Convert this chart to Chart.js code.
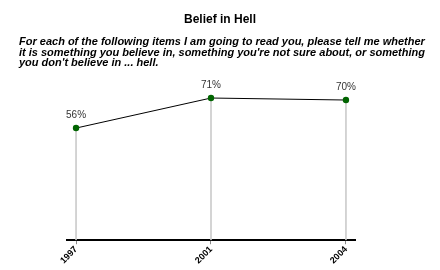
<!DOCTYPE html>
<html>
<head>
<meta charset="utf-8">
<script src="https://cdn.jsdelivr.net/npm/chart.js@4"></script>
<style>
  html, body { margin: 0; padding: 0; background: #fff; }
  #wrap { width: 440px; height: 270px; }
</style>
</head>
<body>
<div id="wrap"><canvas id="hellChart" width="440" height="270"></canvas></div>
<script>
// Chart values
const years = ['1997', '2001', '2004'];
const believePct = [56, 71, 70];
const titleText = 'Belief in Hell';
const subtitleLines = [
    'For each of the following items I am going to read you, please tell me whether',
    'it is something you believe in, something you\'re not sure about, or something',
    'you don\'t believe in ... hell.'
];

const points = believePct.map((v, i) => ({ x: i, y: v }));
const FONT = '"Liberation Sans", Arial, sans-serif';

// Percent labels above each point
const valueLabels = {
    id: 'valueLabels',
    afterDatasetsDraw(chart) {
        const meta = chart.getDatasetMeta(1);
        const ctx = chart.ctx;
        ctx.save();
        ctx.font = '10px ' + FONT;
        ctx.fillStyle = '#333';
        ctx.textAlign = 'center';
        ctx.textBaseline = 'alphabetic';
        meta.data.forEach((pt, i) => {
            ctx.fillText(believePct[i] + '%', pt.x, pt.y - 10);
        });
        ctx.restore();
    }
};

// Left-aligned question text under the centred title
const questionText = {
    id: 'questionText',
    afterDraw(chart) {
        const ctx = chart.ctx;
        ctx.save();
        ctx.font = 'italic bold 11px ' + FONT;
        ctx.fillStyle = '#000';
        ctx.textAlign = 'left';
        ctx.textBaseline = 'alphabetic';
        subtitleLines.forEach((line, i) => {
            ctx.fillText(line, 19, 45 + i * 10.5);
        });
        ctx.restore();
    }
};

// invisible axis used only to reserve space on a side
const spacer = (pos, w) => ({
    position: pos,
    display: true,
    ticks: { display: false },
    grid: { display: false },
    border: { display: false },
    afterFit: a => { a.width = w; }
});

const ctx = document.getElementById('hellChart').getContext('2d');
new Chart(ctx, {
    type: 'line',
    data: {
        datasets: [{
            // drop lines from each point to the axis
            type: 'bar',
            data: points,
            backgroundColor: '#cccccc',
            barThickness: 1,
            order: 2
        }, {
            type: 'line',
            data: points,
            borderColor: '#000',
            borderWidth: 1,
            pointRadius: 3.2,
            pointBackgroundColor: '#006400',
            pointBorderColor: '#006400',
            pointBorderWidth: 0,
            tension: 0,
            order: 1
        }]
    },
    options: {
        responsive: false,
        animation: false,
        layout: { padding: { left: 0, right: 0, top: 6, bottom: 4 } },
        scales: {
            x: {
                type: 'linear',
                min: -0.067,
                max: 2.067,
                offset: false,
                afterBuildTicks: axis => { axis.ticks = years.map((y, i) => ({ value: i })); },
                ticks: {
                    autoSkip: false,
                    minRotation: 45,
                    maxRotation: 45,
                    padding: 0,
                    color: '#000',
                    font: { family: FONT, size: 9, weight: 'bold' },
                    callback: v => years[v]
                },
                grid: { offset: false, drawOnChartArea: false, tickLength: 4, color: '#888' },
                border: { color: '#000', width: 2 }
            },
            y: Object.assign(spacer('left', 67), { min: 0, max: 82 }),
            yRight: spacer('right', 85)
        },
        plugins: {
            legend: { display: false },
            tooltip: { enabled: false },
            title: {
                display: true,
                text: titleText,
                color: '#000',
                font: { family: FONT, size: 12, weight: 'bold' },
                padding: { top: 6, bottom: 49.6 }
            },
            subtitle: { display: false }
        }
    },
    plugins: [valueLabels, questionText]
});
</script>
</body>
</html>
